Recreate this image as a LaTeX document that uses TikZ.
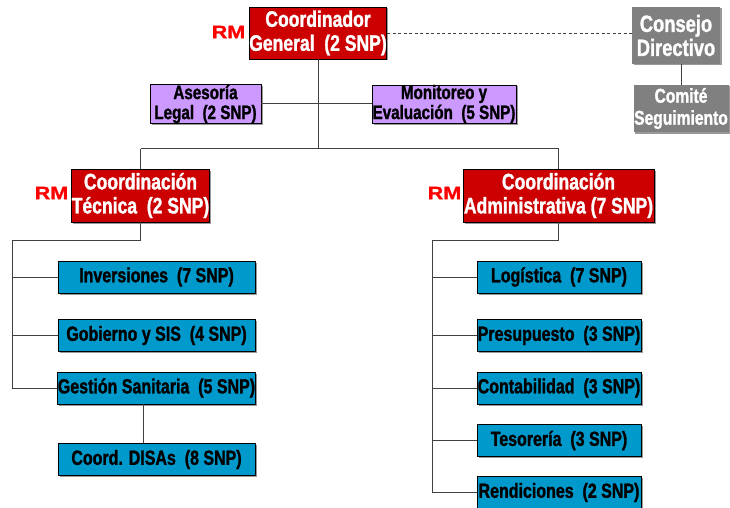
\documentclass[tikz,border=0pt]{standalone}
\usepackage{fontspec}
\setmainfont{Liberation Sans}
\newfontfamily\cnd{Liberation Sans}[FakeStretch=0.78, FakeBold=1.3]
\newfontfamily\wde{Liberation Sans}[FakeStretch=1.2, FakeBold=1]
\usetikzlibrary{shadows}
\definecolor{orgred}{HTML}{CC0000}
\definecolor{orgblue}{HTML}{0099CC}
\definecolor{orgpurple}{HTML}{CC99FF}
\definecolor{orggray}{HTML}{808080}
\definecolor{linegray}{HTML}{404040}
\tikzset{
  box/.style={draw=black, line width=0.8pt, inner sep=0pt, align=center,
    drop shadow={shadow xshift=1.5pt, shadow yshift=-1.5pt, fill=black!40, opacity=1}},
  redbox/.style={box, fill=orgred, text=white, font=\cnd\bfseries\fontsize{22.5}{24}\selectfont},
  graybox/.style={box, draw=none, fill=orggray, text=white, font=\cnd\bfseries\fontsize{23.5}{24}\selectfont},
  graybox2/.style={box, draw=none, fill=orggray, text=white, font=\cnd\bfseries\fontsize{20}{22}\selectfont},
  purplebox/.style={box, fill=orgpurple, text=black, font=\cnd\bfseries\fontsize{19.5}{20}\selectfont},
  bluebox/.style={box, fill=orgblue, text=black, minimum height=32pt, font=\cnd\bfseries\fontsize{20.5}{22}\selectfont},
  leftbox/.style={bluebox, minimum width=197pt},
  rightbox/.style={bluebox, minimum width=164pt},
  rmlabel/.style={text=red, inner sep=0pt, font=\wde\bfseries\fontsize{18}{18}\selectfont},
  conn/.style={draw=linegray, line width=1pt},
  dashconn/.style={draw=linegray, line width=0.9pt, dash pattern=on 3pt off 2.5pt},
}
\begin{document}
\begin{tikzpicture}[x=1pt,y=-1pt]
\useasboundingbox[fill=white] (0,0) rectangle (730,508);

% top level
\node[redbox, minimum width=134pt, minimum height=52pt] (cg) at (318,33) {Coordinador\\General~~(2 SNP)};
\node[rmlabel] (rm1) at (228.5,32) {RM};
\node[graybox, minimum width=88pt, minimum height=57pt] (cons) at (676,35.5) {Consejo\\Directivo};
\node[graybox2, minimum width=95pt, minimum height=47pt] (com) at (681,108.5) {Comité\\Seguimiento};

% advisory
\node[purplebox, minimum width=111pt, minimum height=38pt] (ase) at (205.5,104) {Asesoría\\Legal~~(2 SNP)};
\node[purplebox, minimum width=144pt, minimum height=38pt] (mon) at (444,104) {Monitoreo y\\Evaluación~~(5 SNP)};

% coordinations
\node[redbox, minimum width=137pt, minimum height=53pt] (tec) at (140.5,195.5) {Coordinación\\Técnica~~(2 SNP)};
\node[rmlabel] (rm2) at (51.5,193) {RM};
\node[redbox, minimum width=191pt, minimum height=53pt] (adm) at (558.5,195.5) {Coordinación\\Administrativa (7 SNP)};
\node[rmlabel] (rm3) at (444.5,193) {RM};

% left units
\node[leftbox] (inv) at (156.5,277) {Inversiones~~(7 SNP)};
\node[leftbox] (gob) at (156.5,335.5) {Gobierno y SIS~~(4 SNP)};
\node[leftbox] (ges) at (156.5,388) {Gestión Sanitaria~~(5 SNP)};
\node[leftbox] (dis) at (156.5,459.5) {Coord. DISAs~~(8 SNP)};

% right units
\node[rightbox] (log) at (559,277) {Logística~~(7 SNP)};
\node[rightbox] (pre) at (559,335.5) {Presupuesto~~(3 SNP)};
\node[rightbox] (con) at (559,388) {Contabilidad~~(3 SNP)};
\node[rightbox] (tes) at (559,440.5) {Tesorería~~(3 SNP)};
\node[rightbox] (ren) at (559,492.5) {Rendiciones~~(2 SNP)};

% helper coordinates
\coordinate (bus) at (320,148.5);
\coordinate (lb) at (12.7,240);
\coordinate (rb) at (432,240);
\coordinate (dx) at (143,0);

% connectors
\draw[dashconn] (cg.east) -- (cg.east -| cons.west);
\draw[conn] (com.north |- cons.south) -- (com.north);
\draw[conn] (cg.south) -- (cg.south |- bus);
\draw[conn] (ase.east) -- (mon.west);
\draw[conn] (tec.north |- bus) -- (adm.north |- bus);
\draw[conn] (tec.north |- bus) -- (tec.north);
\draw[conn] (adm.north |- bus) -- (adm.north);

\draw[conn] (tec.south) -- (tec.south |- lb) -- (lb) -- (lb |- ges.west) -- (ges.west);
\draw[conn] (lb |- inv.west) -- (inv.west);
\draw[conn] (lb |- gob.west) -- (gob.west);
\draw[conn] (ges.south -| dx) -- (dis.north -| dx);

\draw[conn] (adm.south) -- (adm.south |- rb) -- (rb) -- (rb |- ren.west) -- (ren.west);
\draw[conn] (rb |- log.west) -- (log.west);
\draw[conn] (rb |- pre.west) -- (pre.west);
\draw[conn] (rb |- con.west) -- (con.west);
\draw[conn] (rb |- tes.west) -- (tes.west);
\end{tikzpicture}
\end{document}
